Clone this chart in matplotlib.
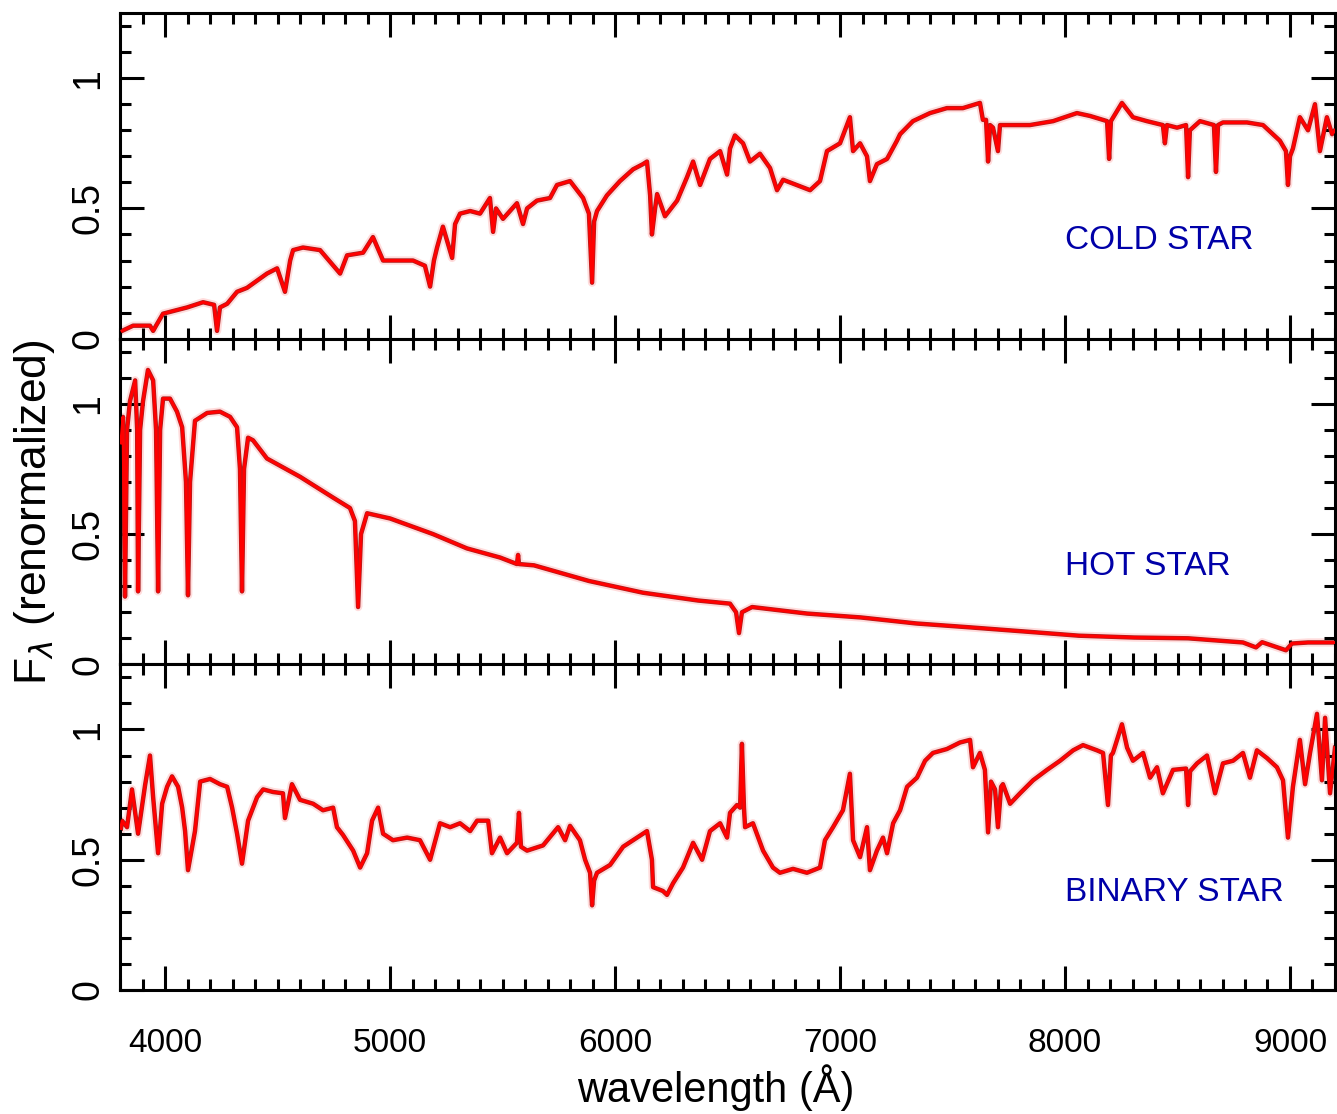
import matplotlib
matplotlib.use('Agg')
import matplotlib.pyplot as plt
from matplotlib.ticker import MultipleLocator

plt.rcParams['font.family'] = ['Liberation Sans', 'DejaVu Sans']

# cold star (wavelength in Angstrom, flux renormalized)
cold_wave = [3809, 3858, 3933, 3947, 3960, 3991, 4098, 4169, 4218, 4231, 4244, 4276, 4320, 4364,
             4453, 4498, 4533, 4556, 4569, 4613, 4689, 4778, 4809, 4880, 4924, 4969, 5031, 5102,
             5155, 5178, 5195, 5209, 5235, 5276, 5289, 5311, 5356, 5400, 5444, 5458, 5471, 5502,
             5564, 5591, 5609, 5653, 5711, 5742, 5800, 5858, 5884, 5898, 5907, 5920, 5964, 6022,
             6080, 6124, 6142, 6156, 6164, 6178, 6187, 6222, 6276, 6320, 6347, 6378, 6422, 6467,
             6498, 6511, 6533, 6569, 6600, 6644, 6689, 6720, 6747, 6822, 6867, 6911, 6942, 7000,
             7044, 7058, 7089, 7120, 7133, 7164, 7209, 7253, 7267, 7324, 7400, 7475, 7546, 7622,
             7635, 7649, 7658, 7667, 7680, 7702, 7711, 7742, 7844, 7947, 8053, 8111, 8187, 8196,
             8204, 8253, 8302, 8364, 8435, 8444, 8453, 8498, 8538, 8547, 8555, 8600, 8662, 8671,
             8680, 8702, 8809, 8880, 8955, 8982, 8991, 9000, 9013, 9044, 9080, 9111, 9133, 9164,
             9187, 9200]
cold_flux = [0.03, 0.05, 0.05, 0.03, 0.05, 0.096, 0.12, 0.14, 0.13, 0.03, 0.12, 0.134, 0.18, 0.195,
             0.25, 0.27, 0.18, 0.30, 0.34, 0.35, 0.34, 0.25, 0.32, 0.33, 0.39, 0.30, 0.30, 0.30,
             0.28, 0.20, 0.30, 0.35, 0.43, 0.31, 0.44, 0.48, 0.49, 0.48, 0.54, 0.41, 0.50, 0.46,
             0.52, 0.44, 0.50, 0.53, 0.54, 0.59, 0.605, 0.54, 0.48, 0.215, 0.45, 0.49, 0.55, 0.605,
             0.65, 0.67, 0.68, 0.55, 0.40, 0.50, 0.555, 0.47, 0.53, 0.62, 0.68, 0.59, 0.69, 0.72,
             0.63, 0.73, 0.78, 0.75, 0.68, 0.71, 0.655, 0.57, 0.61, 0.585, 0.57, 0.605, 0.72, 0.75,
             0.85, 0.72, 0.75, 0.70, 0.605, 0.67, 0.69, 0.76, 0.785, 0.835, 0.866, 0.885, 0.885, 0.905,
             0.84, 0.84, 0.68, 0.82, 0.81, 0.72, 0.82, 0.82, 0.82, 0.835, 0.866, 0.855, 0.835, 0.69,
             0.835, 0.905, 0.85, 0.835, 0.82, 0.75, 0.82, 0.81, 0.82, 0.62, 0.80, 0.835, 0.82, 0.64,
             0.82, 0.83, 0.83, 0.82, 0.76, 0.72, 0.59, 0.70, 0.73, 0.85, 0.80, 0.90, 0.72, 0.85,
             0.785, 0.80]

# hot star
hot_wave = [3804, 3813, 3822, 3831, 3844, 3867, 3876, 3880, 3889, 3902, 3924, 3947, 3960, 3969,
            3978, 3991, 4022, 4053, 4076, 4093, 4102, 4111, 4133, 4187, 4244, 4289, 4320, 4333,
            4342, 4351, 4369, 4391, 4453, 4600, 4747, 4822, 4844, 4858, 4871, 4898, 5000, 5191,
            5342, 5489, 5564, 5569, 5573, 5640, 5884, 6124, 6369, 6511, 6538, 6551, 6564, 6609,
            6853, 7093, 7338, 7578, 7822, 8062, 8307, 8547, 8791, 8849, 8876, 8982, 9009, 9080,
            9200]
hot_flux = [0.85, 0.95, 0.26, 0.90, 1.01, 1.09, 0.90, 0.28, 0.90, 1.01, 1.13, 1.09, 0.90, 0.28,
            0.90, 1.02, 1.02, 0.97, 0.91, 0.70, 0.265, 0.70, 0.935, 0.965, 0.97, 0.95, 0.91, 0.75,
            0.28, 0.75, 0.87, 0.86, 0.79, 0.72, 0.64, 0.60, 0.55, 0.22, 0.50, 0.58, 0.56, 0.50,
            0.445, 0.41, 0.385, 0.42, 0.385, 0.38, 0.32, 0.275, 0.245, 0.233, 0.20, 0.12, 0.20, 0.22,
            0.195, 0.18, 0.157, 0.142, 0.126, 0.11, 0.103, 0.10, 0.084, 0.065, 0.085, 0.054, 0.08, 0.084,
            0.084]

# binary star
bin_wave = [3804, 3809, 3831, 3853, 3880, 3911, 3933, 3947, 3969, 3987, 4009, 4031, 4058, 4076,
            4089, 4102, 4133, 4156, 4200, 4244, 4276, 4298, 4320, 4342, 4369, 4409, 4436, 4480,
            4524, 4533, 4564, 4600, 4658, 4702, 4747, 4764, 4791, 4836, 4867, 4898, 4920, 4947,
            4969, 5013, 5076, 5133, 5178, 5222, 5267, 5311, 5356, 5387, 5436, 5453, 5489, 5520,
            5564, 5573, 5582, 5609, 5680, 5747, 5778, 5800, 5844, 5867, 5889, 5898, 5907, 5920,
            5978, 6036, 6080, 6142, 6164, 6169, 6213, 6231, 6258, 6302, 6347, 6387, 6422, 6467,
            6498, 6511, 6542, 6556, 6564, 6573, 6578, 6613, 6658, 6702, 6733, 6791, 6853, 6911,
            6933, 6969, 7013, 7044, 7058, 7089, 7120, 7133, 7164, 7191, 7209, 7236, 7267, 7298,
            7342, 7378, 7413, 7475, 7533, 7578, 7591, 7622, 7644, 7658, 7671, 7689, 7702, 7716,
            7724, 7756, 7800, 7858, 7920, 7978, 8036, 8080, 8142, 8169, 8191, 8204, 8213, 8253,
            8276, 8302, 8347, 8378, 8409, 8435, 8480, 8538, 8547, 8556, 8587, 8631, 8667, 8702,
            8747, 8791, 8822, 8853, 8898, 8942, 8969, 8991, 9013, 9044, 9067, 9089, 9120, 9142,
            9156, 9178, 9200]
bin_flux = [0.62, 0.65, 0.625, 0.77, 0.60, 0.785, 0.90, 0.74, 0.525, 0.715, 0.78, 0.82, 0.78, 0.70,
            0.61, 0.46, 0.61, 0.80, 0.81, 0.79, 0.78, 0.70, 0.60, 0.485, 0.65, 0.74, 0.77, 0.76,
            0.755, 0.66, 0.79, 0.73, 0.715, 0.69, 0.70, 0.625, 0.595, 0.535, 0.47, 0.525, 0.65, 0.70,
            0.60, 0.575, 0.585, 0.575, 0.50, 0.64, 0.625, 0.64, 0.61, 0.65, 0.65, 0.525, 0.585, 0.525,
            0.565, 0.68, 0.55, 0.535, 0.555, 0.625, 0.575, 0.63, 0.575, 0.50, 0.45, 0.325, 0.42, 0.45,
            0.48, 0.55, 0.575, 0.61, 0.50, 0.395, 0.38, 0.365, 0.41, 0.47, 0.565, 0.50, 0.61, 0.64,
            0.585, 0.68, 0.71, 0.70, 0.945, 0.70, 0.625, 0.64, 0.535, 0.47, 0.45, 0.465, 0.45, 0.47,
            0.575, 0.625, 0.69, 0.83, 0.575, 0.51, 0.625, 0.46, 0.535, 0.585, 0.525, 0.64, 0.69, 0.78,
            0.815, 0.88, 0.91, 0.925, 0.95, 0.96, 0.855, 0.91, 0.845, 0.605, 0.80, 0.77, 0.625, 0.78,
            0.79, 0.715, 0.755, 0.805, 0.845, 0.88, 0.92, 0.94, 0.92, 0.91, 0.71, 0.90, 0.91, 1.02,
            0.93, 0.88, 0.91, 0.815, 0.855, 0.755, 0.845, 0.85, 0.71, 0.84, 0.87, 0.90, 0.755, 0.87,
            0.88, 0.91, 0.815, 0.92, 0.89, 0.855, 0.805, 0.585, 0.78, 0.96, 0.79, 0.91, 1.06, 0.805,
            1.045, 0.755, 0.93]

names = ['COLD STAR', 'HOT STAR', 'BINARY STAR']
spectra = [(cold_wave, cold_flux), (hot_wave, hot_flux), (bin_wave, bin_flux)]

fig, axes = plt.subplots(3, 1, sharex=True, figsize=(13.37, 11.14), dpi=100)
fig.subplots_adjust(left=0.0898, right=0.9985, top=0.9883, bottom=0.1113, hspace=0)

for ax, (w, f), name in zip(axes, spectra, names):
    # pink halo, dark red spectrum, red on top
    ax.plot(w, f, color='#ffdcdc', lw=6, zorder=1)
    ax.plot(w, f, color='#a82020', lw=3.2, zorder=2)
    ax.plot(w, f, color='#ff0000', lw=2.2, zorder=3)
    ax.text(8000, 0.375, name, color='#0000a8', fontsize=24, ha='left', va='center')

    ax.set_xlim(3800, 9200)
    ax.set_ylim(0, 1.25)
    ax.xaxis.set_major_locator(MultipleLocator(1000))
    ax.xaxis.set_minor_locator(MultipleLocator(100))
    ax.set_yticks([0, 0.5, 1])
    ax.set_yticklabels(['0', '0.5', '1'], rotation=90, va='center')
    ax.yaxis.set_minor_locator(MultipleLocator(0.1))
    ax.tick_params(which='both', direction='in', top=True, right=True, width=2.2)
    ax.tick_params(which='major', length=17)
    ax.tick_params(which='minor', length=8)
    ax.tick_params(axis='y', labelsize=27, pad=10)
    ax.tick_params(axis='x', labelsize=24, pad=27)
    for s in ax.spines.values():
        s.set_linewidth(2.2)

fig.text(0.5355, 0.0233, 'wavelength (Å)', fontsize=30, ha='center', va='center')
fig.text(0.026, 0.540, r'F$_\lambda$ (renormalized)', fontsize=32, rotation=90,
         ha='center', va='center')

plt.savefig('out.png', dpi=100)
